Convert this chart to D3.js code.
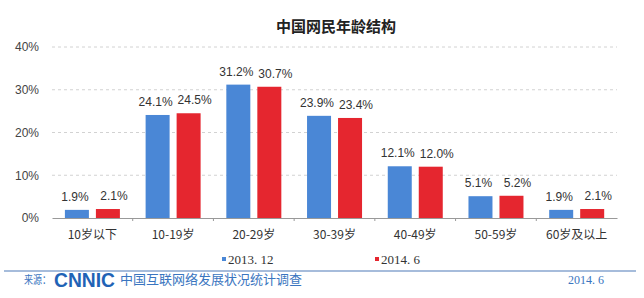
<!DOCTYPE html>
<html>
<head>
<meta charset="utf-8">
<script src="https://cdn.jsdelivr.net/npm/d3@7"></script>
<style>
  html, body { margin: 0; padding: 0; background: #fff; }
  svg { display: block; }
</style>
</head>
<body>
<svg id="chart" width="644" height="298"></svg>
<script>
const categories = ["10岁以下", "10-19岁", "20-29岁", "30-39岁", "40-49岁", "50-59岁", "60岁及以上"];
const seriesNames = ["2013. 12", "2014. 6"];
const values2013 = [1.9, 24.1, 31.2, 23.9, 12.1, 5.1, 1.9];
const values2014 = [2.1, 24.5, 30.7, 23.4, 12.0, 5.2, 2.1];
const yTicks = [0, 10, 20, 30, 40];
const colors = ["#4a87d6", "#e5262f"];

const svg = d3.select("#chart");
const cjk = "'Noto Sans CJK SC', 'Liberation Sans', sans-serif";
const latin = "'Liberation Sans', Arial, 'Noto Sans CJK SC', sans-serif";

const x = d3.scaleBand().domain(categories).range([52, 617]).padding(0);
const xSub = d3.scaleBand().domain(seriesNames).range([12.9, 67.9]).paddingInner(0.226);
const y = d3.scaleLinear().domain([0, 40]).range([218, 47]);

// title
svg.append("text")
  .attr("x", 336).attr("y", 32)
  .attr("text-anchor", "middle")
  .attr("font-family", cjk).attr("font-weight", "bold")
  .attr("font-size", 15).attr("fill", "#222")
  .text("中国网民年龄结构");

// gridlines
svg.append("g")
  .selectAll("line")
  .data(yTicks.filter((d) => d > 0))
  .join("line")
  .attr("x1", 52).attr("x2", 617)
  .attr("y1", (d) => y(d)).attr("y2", (d) => y(d))
  .attr("stroke", "#d2d2d2")
  .attr("stroke-dasharray", "3,3");

// y axis labels
const yAxis = svg.append("g")
  .attr("transform", "translate(52,0)")
  .call(d3.axisLeft(y).tickValues(yTicks).tickFormat((d) => d + "%").tickSize(0).tickPadding(13));
yAxis.select(".domain").remove();
yAxis.selectAll("text").attr("font-family", latin).attr("font-size", 12).attr("fill", "#444");

// x axis
const xAxis = svg.append("g")
  .attr("transform", "translate(0,218)")
  .call(d3.axisBottom(x).tickSize(0).tickPadding(12).tickSizeOuter(0));
xAxis.select(".domain").attr("stroke", "#999");
xAxis.selectAll("text").attr("font-family", cjk).attr("font-size", 12).attr("fill", "#333");
svg.append("g")
  .selectAll("line")
  .data(categories.slice(1))
  .join("line")
  .attr("x1", (d) => x(d)).attr("x2", (d) => x(d))
  .attr("y1", 218).attr("y2", 221)
  .attr("stroke", "#999");

// bars
const rows = categories.map((c, i) => ({ cat: c, vals: [values2013[i], values2014[i]] }));
const groups = svg.append("g")
  .selectAll("g")
  .data(rows)
  .join("g")
  .attr("transform", (d) => `translate(${x(d.cat)},0)`);

groups.selectAll("rect")
  .data((d) => d.vals.map((v, k) => ({ key: seriesNames[k], v, k })))
  .join("rect")
  .attr("x", (d) => xSub(d.key))
  .attr("y", (d) => y(d.v))
  .attr("width", xSub.bandwidth())
  .attr("height", (d) => y(0) - y(d.v))
  .attr("fill", (d) => colors[d.k]);

groups.selectAll("text")
  .data((d) => d.vals.map((v, k) => ({ key: seriesNames[k], v, k })))
  .join("text")
  .attr("x", (d) => xSub(d.key) + xSub.bandwidth() / 2 + (d.k === 0 ? -2 : 6))
  .attr("y", (d) => y(d.v) - 9)
  .attr("text-anchor", "middle")
  .attr("font-family", latin).attr("font-size", 12).attr("fill", "#333")
  .text((d) => d.v.toFixed(1) + "%");

// legend
const legendX = [222, 375];
const legend = svg.append("g")
  .selectAll("g")
  .data(seriesNames)
  .join("g")
  .attr("transform", (d, i) => `translate(${legendX[i]},259)`);
legend.append("rect")
  .attr("x", 0).attr("y", -2).attr("width", 4).attr("height", 4)
  .attr("fill", (d, i) => colors[i]);
legend.append("text")
  .attr("x", 6).attr("y", 4.5)
  .attr("font-family", "'Liberation Serif', serif").attr("font-size", 13).attr("fill", "#333")
  .text((d) => d);

// footer
svg.append("line")
  .attr("x1", 4).attr("x2", 636).attr("y1", 271).attr("y2", 271)
  .attr("stroke", "#89a6cf").attr("stroke-width", 1.5);

const footer = svg.append("g").attr("fill", "#3a75c0");
footer.append("text")
  .attr("x", 24).attr("y", 284)
  .attr("font-family", cjk).attr("font-size", 11)
  .attr("textLength", 27).attr("lengthAdjust", "spacingAndGlyphs")
  .text("来源：");
footer.append("text")
  .attr("x", 54).attr("y", 287)
  .attr("font-family", latin).attr("font-size", 21).attr("font-weight", "bold")
  .attr("textLength", 61).attr("lengthAdjust", "spacingAndGlyphs")
  .attr("fill", "#1f63b6")
  .text("CNNIC");
footer.append("text")
  .attr("x", 120).attr("y", 284)
  .attr("font-family", cjk).attr("font-size", 13)
  .text("中国互联网络发展状况统计调查");
footer.append("text")
  .attr("x", 568).attr("y", 284)
  .attr("font-family", "'Liberation Serif', serif").attr("font-size", 12)
  .attr("fill", "#3a75c0")
  .text("2014. 6");
</script>
</body>
</html>
